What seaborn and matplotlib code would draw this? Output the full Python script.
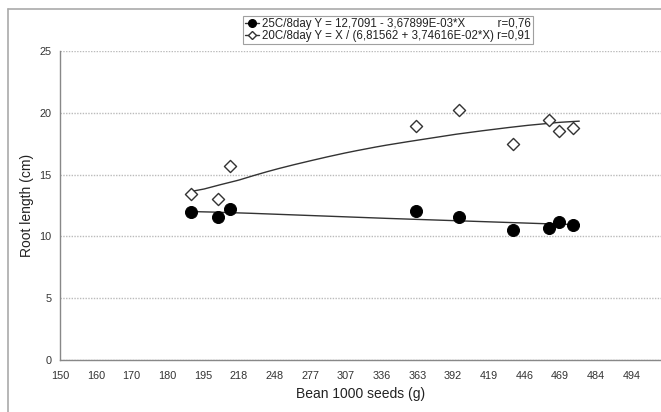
import numpy as np
import pandas as pd
import matplotlib
matplotlib.use("Agg")
import matplotlib.pyplot as plt
from matplotlib.lines import Line2D
import seaborn as sns

# ---- data ----
tick_labels = [150, 160, 170, 180, 195, 218, 248, 277, 307, 336, 363, 392, 419, 446, 469, 484, 494]
bean_weight = [190, 205, 212.5, 362, 396.5, 437, 461.5, 468.5, 474.5]
root_25c = [12.0, 11.6, 12.25, 12.05, 11.6, 10.5, 10.7, 11.2, 10.95]
root_20c = [13.4, 13.0, 15.7, 18.9, 20.2, 17.5, 19.4, 18.5, 18.8]
fit_range = [190, 477]
label_25c = "25C/8day Y = 12,7091 - 3,67899E-03*X          r=0,76"
label_20c = "20C/8day Y = X / (6,81562 + 3,74616E-02*X) r=0,91"

# ---- axis scale: evenly spaced category-like ticks ----
anchor_vals = np.array([140] + tick_labels + [504, 514])
anchor_pos = np.arange(-1, len(tick_labels) + 2, dtype=float)

def fwd(x):
    return np.interp(x, anchor_vals, anchor_pos)

def inv(p):
    return np.interp(p, anchor_pos, anchor_vals)

df = pd.DataFrame({"x": bean_weight, "y25": root_25c, "y20": root_20c})
xf = np.linspace(fit_range[0], fit_range[1], 300)
fit = pd.DataFrame({"x": xf,
                    "f25": 12.7091 - 3.67899e-03 * xf,
                    "f20": xf / (6.81562 + 3.74616e-02 * xf)})

sns.set_style("white")
plt.rcParams["font.family"] = ["Liberation Sans", "DejaVu Sans"]

fig = plt.figure(figsize=(6.61, 4.12), dpi=100)
ax = fig.add_axes([60 / 661, 1 - 360 / 412, 1 - 60 / 661, (360 - 51) / 412])
ax.set_xscale("function", functions=(fwd, inv))

sns.lineplot(data=fit, x="x", y="f25", ax=ax, color="#333333", lw=1.0, zorder=2)
sns.lineplot(data=fit, x="x", y="f20", ax=ax, color="#333333", lw=1.0, zorder=2)
sns.scatterplot(data=df, x="x", y="y25", ax=ax, marker="o", s=75, color="black",
                edgecolor="black", zorder=3)
sns.scatterplot(data=df, x="x", y="y20", ax=ax, marker="D", s=38, facecolor="white",
                edgecolor="#333333", linewidth=1.0, zorder=3)

ax.set_xlim(150, inv(16.82))
ax.set_ylim(0, 25)
ax.set_xticks(tick_labels)
ax.set_xticklabels([str(t) for t in tick_labels])
ax.set_yticks([0, 5, 10, 15, 20, 25])
ax.xaxis.set_minor_locator(matplotlib.ticker.NullLocator())
ax.tick_params(axis="both", labelsize=7.8, labelcolor="#333333", color="#888888",
               length=4, width=0.8, direction="inout")
ax.tick_params(axis="x", pad=6)
ax.tick_params(axis="y", pad=4)
for s in ["top", "right"]:
    ax.spines[s].set_visible(False)
for s in ["left", "bottom"]:
    ax.spines[s].set_color("#888888")
    ax.spines[s].set_linewidth(1.0)
ax.yaxis.grid(True, linestyle=(0, (1, 1)), color="#bbbbbb", linewidth=1.0)
ax.set_axisbelow(True)
ax.set_xlabel("Bean 1000 seeds (g)", fontsize=10, color="#222222", labelpad=4)
ax.set_ylabel("Root length (cm)", fontsize=10, color="#222222", labelpad=4)

handles = [Line2D([0], [0], color="#333333", lw=1.0, marker="o", markersize=5.5,
                  markerfacecolor="black", markeredgecolor="black"),
           Line2D([0], [0], color="#333333", lw=1.0, marker="D", markersize=4,
                  markerfacecolor="white", markeredgecolor="#333333")]
leg = fig.legend(handles, [label_25c, label_20c], loc="center",
                 bbox_to_anchor=(388 / 661, 1 - 30 / 412), fontsize=8.3,
                 frameon=True, fancybox=False, handlelength=1.2, handletextpad=0.2,
                 borderpad=0.2, labelspacing=0.0, borderaxespad=0)
leg.get_frame().set_edgecolor("#888888")
leg.get_frame().set_linewidth(0.8)
for t in leg.get_texts():
    t.set_color("#222222")

# figure border (left and top)
fig.add_artist(Line2D([8 / 661, 8 / 661], [0, 1 - 9 / 412], transform=fig.transFigure,
                      color="#aaaaaa", lw=1.2))
fig.add_artist(Line2D([8 / 661, 1], [1 - 9 / 412, 1 - 9 / 412], transform=fig.transFigure,
                      color="#aaaaaa", lw=1.2))

fig.savefig("out.png", dpi=100)
